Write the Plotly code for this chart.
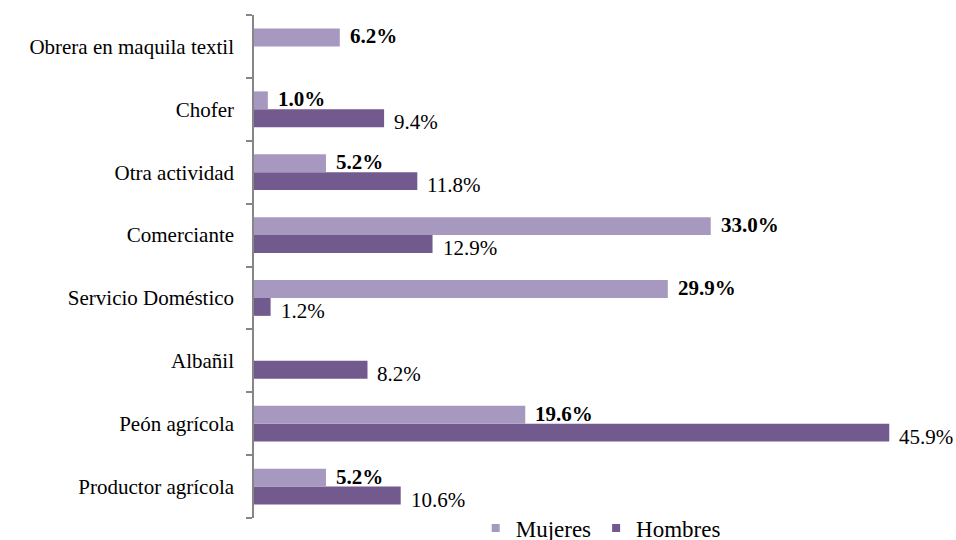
import plotly.graph_objects as go

categories = ["Productor agrícola", "Peón agrícola", "Albañil", "Servicio Doméstico",
              "Comerciante", "Otra actividad", "Chofer", "Obrera en maquila textil"]
mujeres = [5.2, 19.6, None, 29.9, 33.0, 5.2, 1.0, 6.2]
hombres = [10.6, 45.9, 8.2, 1.2, 12.9, 11.8, 9.4, None]

C_MUJ = "#A798BF"
C_HOM = "#725A8E"
FONT = "Liberation Serif"

fig = go.Figure()
fig.add_trace(go.Bar(y=categories, x=hombres, orientation="h", name="Hombres",
                     marker=dict(color=C_HOM, line=dict(width=0)), showlegend=False))
fig.add_trace(go.Bar(y=categories, x=mujeres, orientation="h", name="Mujeres",
                     marker=dict(color=C_MUJ, line=dict(width=0)), showlegend=False))
# legend entries with small square symbols
fig.add_trace(go.Scatter(x=[None], y=[None], mode="markers", name="Hombres",
                         marker=dict(symbol="square", size=8, color=C_HOM)))
fig.add_trace(go.Scatter(x=[None], y=[None], mode="markers", name="Mujeres",
                         marker=dict(symbol="square", size=8, color=C_MUJ)))

annotations = []
for cat, v in zip(categories, mujeres):
    if v is not None:
        annotations.append(dict(x=v, y=cat, xref="x", yref="y", text=f"<b>{v:.1f}%</b>",
                                showarrow=False, xanchor="left", xshift=8, yshift=10,
                                font=dict(family=FONT, size=21, color="black")))
for cat, v in zip(categories, hombres):
    if v is not None:
        annotations.append(dict(x=v, y=cat, xref="x", yref="y", text=f"{v:.1f}%",
                                showarrow=False, xanchor="left", xshift=8, yshift=-13,
                                font=dict(family=FONT, size=21, color="black")))

fig.update_layout(
    width=956, height=540,
    margin=dict(l=254, r=10, t=15, b=22, autoexpand=False),
    paper_bgcolor="white", plot_bgcolor="white",
    barmode="group", bargap=0.43, bargroupgap=0,
    font=dict(family=FONT, size=21, color="black"),
    annotations=annotations,
    showlegend=True,
    legend=dict(orientation="h", traceorder="reversed", x=0.501, xanchor="center",
                y=-0.02, yanchor="middle", font=dict(family=FONT, size=23, color="black"),
                bgcolor="rgba(0,0,0,0)", itemwidth=30),
    xaxis=dict(range=[0, 50], visible=False, fixedrange=True, automargin=False),
    yaxis=dict(type="category", categoryorder="array", categoryarray=categories,
               automargin=False, fixedrange=True,
               showline=True, linecolor="#868686", linewidth=1.5,
               ticks="outside", tickson="boundaries", ticklen=6, tickcolor="#868686",
               tickwidth=1.5, showgrid=False, zeroline=False,
               tickfont=dict(family=FONT, size=21, color="black"),
               ticklabelstandoff=14),
)

fig.write_html("out.html", config={"displayModeBar": False},
               post_script="document.body.style.margin='0';document.body.style.padding='0';")
